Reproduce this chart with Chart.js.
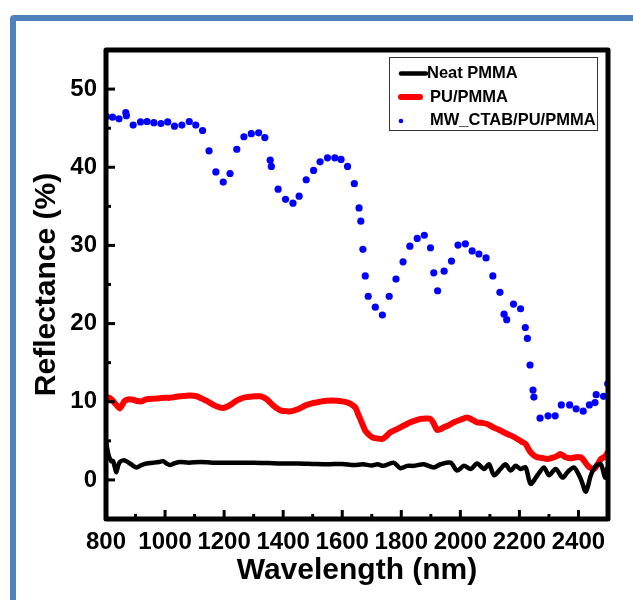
<!DOCTYPE html>
<html>
<head>
<meta charset="utf-8">
<script src="https://cdn.jsdelivr.net/npm/chart.js@4.4.1/dist/chart.umd.min.js"></script>
<style>
  html, body { margin: 0; padding: 0; background: #fff; }
  #wrap { position: relative; width: 633px; height: 600px; overflow: hidden; }
  #frame { position: absolute; left: 10px; top: 15px; width: 700px; height: 700px;
           border: 6px solid #4f81bd; border-radius: 4px; box-sizing: border-box; }
  canvas { position: absolute; left: 0; top: 0; }
</style>
</head>
<body>
<div id="wrap">
  <div id="frame"></div>
  <canvas id="c" width="633" height="600"></canvas>
</div>
<script>
// values
const seriesNames = ['Neat PMMA', 'PU/PMMA', 'MW_CTAB/PU/PMMA'];

const neatWl = [800, 805, 810, 818, 824, 830, 835, 841, 847, 858, 869, 885, 903, 920, 937, 960, 980, 993,
  1005, 1016, 1030, 1050, 1080, 1120, 1160, 1200, 1250, 1300, 1350, 1400, 1450, 1500, 1550, 1600, 1640,
  1670, 1700, 1720, 1740, 1774, 1797, 1820, 1842, 1876, 1910, 1933, 1967, 1989, 2012, 2035, 2057, 2080,
  2097, 2114, 2136, 2153, 2170, 2187, 2204, 2221, 2238, 2261, 2283, 2300, 2323, 2346, 2363, 2385, 2408,
  2425, 2442, 2459, 2476, 2490, 2497, 2500];
const neatR = [5.0, 3.8, 3.0, 2.4, 2.4, 1.6, 1.0, 1.8, 2.3, 2.5, 2.4, 2.0, 1.6, 1.9, 2.1, 2.2, 2.3, 2.4,
  2.1, 1.9, 2.1, 2.3, 2.2, 2.3, 2.2, 2.2, 2.2, 2.2, 2.15, 2.1, 2.1, 2.05, 2.0, 2.05, 1.9,
  2.0, 1.85, 2.0, 1.8, 2.2, 1.5, 1.8, 1.8, 2.0, 1.6, 2.0, 2.2, 1.2, 1.8, 1.4, 2.1, 1.4,
  2.0, 0.6, 1.4, 2.0, 1.2, 1.8, 1.4, 1.6, -0.5, 0.6, 1.6, 0.6, 1.4, 0.3, 1.0, 1.6, 0.1,
  -1.5, 0.6, 1.8, 2.0, 0.3, 1.5, 0.5];

const puWl = [800, 812, 824, 835, 846, 855, 863, 875, 892, 905, 920, 935, 948, 965, 982, 1000, 1016, 1033,
  1050, 1067, 1084, 1107, 1125, 1141, 1155, 1169, 1183, 1197, 1212, 1226, 1240, 1254, 1270, 1288, 1305,
  1322, 1334, 1344, 1356, 1367, 1381, 1395, 1410, 1424, 1438, 1452, 1466, 1480, 1497, 1514, 1531, 1548,
  1565, 1582, 1600, 1616, 1630, 1644, 1652, 1661, 1670, 1678, 1690, 1701, 1718, 1735, 1749, 1763, 1780,
  1797, 1814, 1831, 1848, 1865, 1882, 1899, 1910, 1921, 1933, 1944, 1961, 1978, 2000, 2023, 2040, 2057,
  2074, 2091, 2108, 2125, 2142, 2159, 2176, 2193, 2207, 2221, 2230, 2238, 2250, 2261, 2278, 2295, 2318,
  2330, 2340, 2357, 2374, 2391, 2408, 2420, 2431, 2442, 2453, 2465, 2476, 2490, 2500];
const puR = [10.6, 10.5, 10.1, 9.6, 9.15, 9.6, 10.1, 10.3, 10.25, 10.1, 10.05, 10.3, 10.35, 10.4, 10.45, 10.5, 10.5, 10.6,
  10.7, 10.75, 10.8, 10.7, 10.4, 10.1, 9.8, 9.5, 9.3, 9.2, 9.4, 9.7, 10.1, 10.35, 10.55, 10.65, 10.7,
  10.7, 10.55, 10.35, 9.9, 9.5, 9.1, 8.85, 8.8, 8.77, 8.9, 9.07, 9.35, 9.6, 9.8, 9.92, 10.05, 10.13,
  10.15, 10.13, 10.05, 9.92, 9.7, 9.28, 8.6, 7.8, 7.0, 6.3, 5.8, 5.45, 5.3, 5.24, 5.6, 6.1, 6.4,
  6.73, 7.05, 7.37, 7.6, 7.8, 7.85, 7.8, 7.2, 6.4, 6.5, 6.73, 7.0, 7.37, 7.7, 8.0, 7.7, 7.37,
  7.3, 7.15, 6.8, 6.5, 6.2, 5.87, 5.6, 5.24, 4.9, 4.6, 4.0, 3.54, 3.1, 2.9, 2.8, 2.68, 2.9,
  3.1, 3.3, 2.9, 2.77, 2.9, 2.9, 2.4, 1.83, 1.5, 1.4, 2.0, 2.68, 3.0, 3.6];

const mwWl = [801, 822, 844, 867, 869, 892, 917, 939, 962, 986, 1009, 1032, 1057, 1082, 1104, 1127, 1149,
  1172, 1197, 1220, 1243, 1267, 1292, 1317, 1338, 1356, 1360, 1383, 1408, 1433, 1454, 1478, 1503, 1525,
  1550, 1575, 1596, 1618, 1641, 1657, 1663, 1670, 1678, 1688, 1712, 1736, 1759, 1782, 1806, 1829, 1854,
  1878, 1899, 1910, 1923, 1945, 1970, 1992, 2017, 2040, 2063, 2087, 2110, 2134, 2148, 2157, 2180, 2204,
  2220, 2227, 2236, 2246, 2249, 2270, 2297, 2321, 2342, 2370, 2392, 2416, 2437, 2456, 2460, 2485, 2499];
const mwR = [46.5, 46.4, 46.2, 47.0, 46.6, 45.4, 45.8, 45.85, 45.7, 45.6, 45.8, 45.25, 45.4, 45.85, 45.4, 44.7, 42.1,
  39.4, 38.1, 39.2, 42.3, 43.9, 44.3, 44.4, 43.8, 40.9, 40.1, 37.2, 35.9, 35.4, 36.3, 38.4, 39.6, 40.7,
  41.2, 41.2, 41.0, 40.1, 37.9, 34.8, 33.1, 29.5, 26.1, 23.5, 22.1, 21.1, 23.5, 25.7, 27.9, 29.9, 30.9,
  31.3, 29.7, 26.5, 24.2, 26.7, 28.0, 30.05, 30.2, 29.3, 28.9, 28.4, 26.1, 24.0, 21.2, 20.5, 22.5, 21.9,
  19.5, 18.1, 14.7, 11.5, 10.6, 7.9, 8.2, 8.2, 9.6, 9.6, 9.1, 8.8, 9.6, 9.9, 10.9, 10.7, 12.3];

const xMin = 800, xMax = 2500, xStep = 100, xLabelEvery = 200;
const yMin = -5, yMax = 55, yStep = 5, yLabelEvery = 10;

const FONT = '"Liberation Sans", Arial, Helvetica, sans-serif';
const pts = (xs, ys) => xs.map((v, i) => ({ x: v, y: ys[i] }));

// black frame + inward ticks on bottom/left axes
const frameTicks = {
  id: 'frameTicks',
  afterDatasetsDraw(chart) {
    const { ctx, chartArea: a, scales: { x, y } } = chart;
    ctx.save();
    ctx.strokeStyle = '#000';
    ctx.lineWidth = 3;
    x.ticks.forEach(t => {
      const px = x.getPixelForValue(t.value);
      const len = t.value % xLabelEvery === 0 ? 9 : 5;
      ctx.beginPath(); ctx.moveTo(px, a.bottom); ctx.lineTo(px, a.bottom - len); ctx.stroke();
    });
    y.ticks.forEach(t => {
      const py = y.getPixelForValue(t.value);
      const len = t.value % yLabelEvery === 0 ? 9 : 5;
      ctx.beginPath(); ctx.moveTo(a.left, py); ctx.lineTo(a.left + len, py); ctx.stroke();
    });
    ctx.lineWidth = 5;
    ctx.lineJoin = 'round';
    ctx.strokeRect(a.left, a.top, a.right - a.left, a.bottom - a.top);
    ctx.restore();
  }
};

// framed legend in the upper right corner of the plot
const boxLegend = {
  id: 'boxLegend',
  afterDraw(chart) {
    const { ctx, chartArea: a } = chart;
    const ds = chart.data.datasets;
    const left = a.left + 283, top = a.top + 7, right = a.right - 11, bottom = a.top + 80;
    ctx.save();
    ctx.fillStyle = '#fff';
    ctx.fillRect(left, top, right - left, bottom - top);
    ctx.lineWidth = 1;
    ctx.strokeStyle = '#333';
    ctx.strokeRect(left + 0.5, top + 0.5, right - left, bottom - top);
    ctx.font = 'bold 16.5px ' + FONT;
    ctx.textBaseline = 'middle';
    ctx.fillStyle = '#000';
    const rows = [top + 16.5, top + 40, top + 63];
    ds.forEach((d, i) => {
      const ry = rows[i];
      if (d.showLine) {
        ctx.strokeStyle = d.borderColor;
        ctx.lineWidth = d.borderWidth;
        ctx.lineCap = 'round';
        ctx.beginPath();
        ctx.moveTo(left + 12, ry);
        ctx.lineTo(left + (i === 0 ? 37 : 31), ry);
        ctx.stroke();
      } else {
        ctx.fillStyle = d.backgroundColor;
        ctx.beginPath(); ctx.arc(left + 12, ry + 1, 2.3, 0, Math.PI * 2); ctx.fill();
      }
      ctx.fillStyle = '#000';
      ctx.fillText(d.label, left + (i === 0 ? 38 : 41), ry);
    });
    ctx.restore();
  }
};

new Chart(document.getElementById('c'), {
  type: 'scatter',
  data: {
    datasets: [
      { label: seriesNames[0], data: pts(neatWl, neatR), showLine: true, borderColor: '#000000',
        backgroundColor: '#000000', borderWidth: 4.5, pointRadius: 0, tension: 0.3 },
      { label: seriesNames[1], data: pts(puWl, puR), showLine: true, borderColor: '#ff0000',
        backgroundColor: '#ff0000', borderWidth: 6, pointRadius: 0, tension: 0.3 },
      { label: seriesNames[2], data: pts(mwWl, mwR), showLine: false, borderColor: '#0000ff',
        backgroundColor: '#0000ff', borderWidth: 0, pointRadius: 3.6 }
    ]
  },
  options: {
    responsive: false,
    animation: false,
    devicePixelRatio: 1,
    layout: { padding: { top: 50, right: 25, left: 0, bottom: 0 } },
    plugins: { legend: { display: false }, tooltip: { enabled: false } },
    scales: {
      x: {
        type: 'linear', min: xMin, max: xMax,
        afterFit: s => { s.height = 81; },
        grid: { display: false, drawTicks: false },
        border: { display: false },
        ticks: {
          stepSize: xStep, autoSkip: false, maxRotation: 0, padding: 9, color: '#000',
          font: { family: FONT, size: 24, weight: 'bold' },
          callback: v => (v % xLabelEvery === 0 ? String(v) : '')
        },
        title: { display: true, text: 'Wavelength (nm)', color: '#000',
          font: { family: FONT, size: 30, weight: 'bold' }, padding: { top: 0, bottom: 11 } }
      },
      y: {
        min: yMin, max: yMax,
        afterFit: s => { s.width = 106; },
        grid: { display: false, drawTicks: false },
        border: { display: false },
        ticks: {
          stepSize: yStep, autoSkip: false, padding: 9, color: '#000',
          font: { family: FONT, size: 24, weight: 'bold' },
          callback: v => (v % yLabelEvery === 0 ? String(v) : '')
        },
        title: { display: true, text: 'Reflectance (%)', color: '#000',
          font: { family: FONT, size: 30, weight: 'bold' }, padding: { top: 29, bottom: 0 } }
      }
    }
  },
  plugins: [frameTicks, boxLegend]
});
</script>
</body>
</html>
